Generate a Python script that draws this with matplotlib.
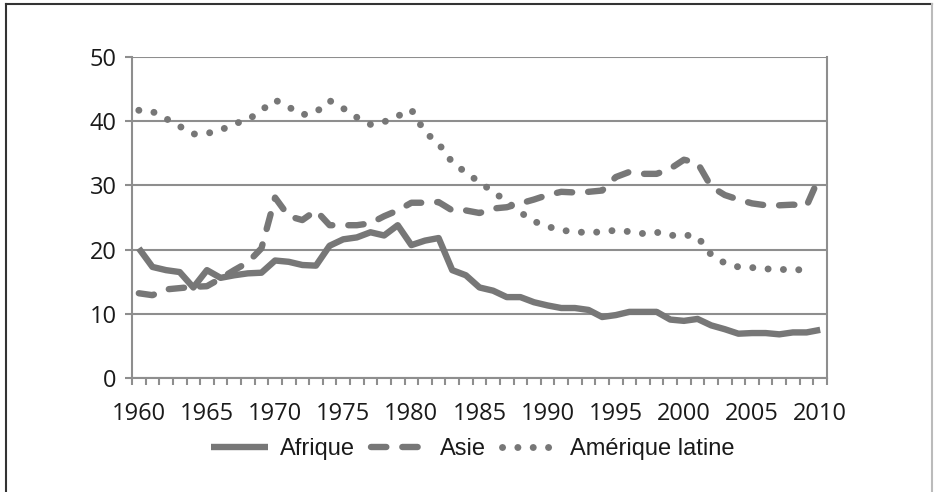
import numpy as np
import matplotlib
matplotlib.use("Agg")
import matplotlib.pyplot as plt
from matplotlib.lines import Line2D

# data
years = list(range(1960, 2011))
afrique = [20.2, 17.3, 16.8, 16.5, 14.1, 16.8, 15.6, 16.0, 16.3, 16.4,
           18.3, 18.1, 17.6, 17.5, 20.6, 21.6, 21.9, 22.7, 22.2, 23.8,
           20.7, 21.4, 21.8, 16.8, 16.0, 14.1, 13.6, 12.6, 12.6, 11.8,
           11.3, 10.9, 10.9, 10.6, 9.5, 9.8, 10.3, 10.3, 10.3, 9.1,
           8.9, 9.2, 8.2, 7.6, 6.9, 7.0, 7.0, 6.8, 7.1, 7.1, 7.5]
asie = [13.2, 12.9, 13.8, 14.0, 14.2, 14.3, 15.5, 16.8, 18.0, 20.2,
        28.1, 25.2, 24.6, 26.1, 23.8, 23.8, 23.8, 24.1, 25.2, 26.1,
        27.3, 27.3, 27.4, 26.1, 26.1, 25.7, 26.4, 26.6, 27.2, 27.8,
        28.5, 29.0, 28.9, 29.0, 29.2, 31.3, 32.1, 31.8, 31.8, 32.6,
        34.0, 33.5, 29.8, 28.5, 27.8, 27.2, 26.9, 26.9, 27.0, 26.8, 31.6]
amerique_latine = [41.7, 41.5, 40.4, 39.2, 38.0, 38.1, 38.6, 39.6, 40.2, 41.7,
                   43.3, 42.2, 41.0, 41.4, 43.2, 42.0, 40.6, 39.5, 39.9, 40.8,
                   41.8, 38.3, 36.5, 33.6, 32.0, 30.5, 29.0, 27.5, 25.8, 24.4,
                   23.6, 23.0, 22.8, 22.6, 22.8, 23.0, 22.8, 22.5, 22.7, 22.2,
                   22.3, 22.0, 19.2, 17.9, 17.3, 17.2, 17.0, 16.9, 16.9, 16.8, np.nan]
series_names = ["Afrique", "Asie", "Amérique latine"]

line_col = "#777777"
grid_col = "#8e8e8e"

fig = plt.figure(figsize=(9.35, 4.92), dpi=100)
ax = fig.add_axes([132 / 935, 1 - 378 / 492, 695 / 935, 321 / 492])

x = np.arange(len(years))
ax.plot(x, afrique, color=line_col, lw=4.6, solid_joinstyle="round",
        solid_capstyle="butt", label=series_names[0])
ax.plot(x, asie, color=line_col, lw=4.6, linestyle=(0, (2.4, 2.5)),
        dash_capstyle="round", dash_joinstyle="round", label=series_names[1])
ax.plot(x, amerique_latine, color=line_col, lw=5.0, linestyle=(0, (0.01, 2.2)),
        dash_capstyle="round", label=series_names[2])

ax.set_xlim(-0.5, len(years) - 0.5)
ax.set_ylim(0, 50)
ax.set_yticks(range(0, 51, 10))
ax.grid(axis="y", color=grid_col, lw=1.5)
ax.set_axisbelow(True)

# category boundary ticks + labels every 5 years
ax.set_xticks(np.arange(-0.5, len(years), 1))
ax.set_xticklabels([])
ax.set_xticks(x[::5], [str(y) for y in years[::5]], minor=True)
ax.tick_params(axis="x", which="major", length=5, width=1.5, color=grid_col)
ax.tick_params(axis="x", which="minor", length=0, pad=17)
ax.tick_params(axis="y", length=5, width=1.5, color=grid_col, pad=6)
for lab in ax.get_xticklabels(minor=True) + ax.get_yticklabels():
    lab.set_fontfamily("Open Sans")
    lab.set_fontsize(17)
    lab.set_color("#1a1a1a")

for side in ["left", "bottom", "right"]:
    ax.spines[side].set_color(grid_col)
    ax.spines[side].set_linewidth(1.5)
ax.spines["top"].set_visible(False)

leg = fig.legend(loc="center", bbox_to_anchor=(473 / 935, 1 - 449 / 492), ncol=3,
                 frameon=False, handlelength=2.4, handletextpad=0.5,
                 columnspacing=0.7, prop={"family": "Liberation Sans", "size": 17})
for t in leg.get_texts():
    t.set_color("#1a1a1a")

# outer frame of the original figure
fig.add_artist(Line2D([5.5 / 935, 5.5 / 935], [0, 1 - 4 / 492], color="#333333", lw=1.5))
fig.add_artist(Line2D([5.5 / 935, 932 / 935], [1 - 4 / 492, 1 - 4 / 492], color="#333333", lw=1.5))
fig.add_artist(Line2D([932 / 935, 932 / 935], [0, 1 - 4 / 492], color="#bbbbbb", lw=1.5))

fig.savefig("out.png", dpi=100)
